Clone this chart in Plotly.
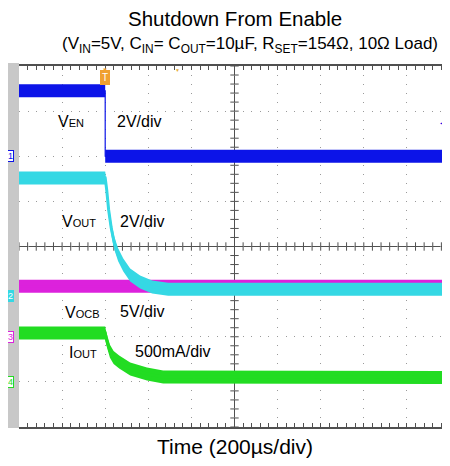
import plotly.graph_objects as go

# ---------------- data (read from the scope capture) ----------------
# time in microseconds, trigger at t = 0, 200 us/div, 10 divisions
t_ven = [-400, 0, 0, 1600]
v_ven = [2.9, 2.9, 0.0, 0.0]                      # V, 2 V/div

t_vout = [-400, 0, 7, 16, 28, 42, 60, 84, 116, 162, 218, 292, 1600]
v_vout = [5.24, 5.24, 4.71, 3.82, 3.02, 2.36, 1.83, 1.38, 0.94, 0.63, 0.41, 0.30, 0.30]  # V, 2 V/div

t_vocb = [-400, 1600]
v_vocb = [5.6, 5.6]                               # V, 5 V/div

t_iout = [-400, 0, 5, 12, 22, 39, 65, 116, 194, 269, 1600]
i_iout = [0.542, 0.542, 0.48, 0.41, 0.34, 0.27, 0.22, 0.143, 0.088, 0.055, 0.049]  # A, 0.5 A/div

T_RANGE = [-400, 1600]
T_DIV = 200

# ---------------- geometry / style ----------------
# the page body has an 8px margin, so the figure is sized to fit the window
OFF = 8
W, H = 450 - OFF, 466 - 2 * OFF
L, R, T, B = 19, 450, 66, 427          # plot area in window pixels
PW, PH = R - L, B - T
NY = 8
DIVPX = PH / NY
FONT = "Liberation Sans, Arial, sans-serif"

def px(x):
    return (x - L) / PW

def py(y):
    return (B - y) / PH

C_BLUE = "#0c14e8"
C_CYAN = "#35d8e4"
C_MAG = "#dc22dc"
C_GREEN = "#22dc22"
GRID = "#9a9a9a"
LINE = "#505050"

# channel: (axis, scale per div, zero position in div from bottom)
channels = {
    "vocb": ("y2", 5.0, 2.0),
    "vout": ("y3", 2.0, 2.9),
    "ven": ("y4", 2.0, 6.0),
    "iout": ("y5", 0.5, 1.0),
}

fig = go.Figure()

# centre-line tick marks (graticule decoration on the main axes)
n_minor_x = 50
xt = [T_RANGE[0] + i * (T_RANGE[1] - T_RANGE[0]) / n_minor_x for i in range(n_minor_x + 1)]
yt = [i * 0.2 for i in range(NY * 5 + 1)]
xc = (T_RANGE[0] + T_RANGE[1]) / 2
fig.add_trace(go.Scatter(x=xt, y=[NY / 2] * len(xt), mode="markers", hoverinfo="skip", showlegend=False,
                         marker=dict(symbol="line-ns", size=6, line=dict(width=1, color=LINE))))
fig.add_trace(go.Scatter(x=[xc] * len(yt), y=yt, mode="markers", hoverinfo="skip", showlegend=False,
                         marker=dict(symbol="line-ew", size=6, line=dict(width=1, color=LINE))))

BAND_PX = 6.5

def add_channel(key, t, v, color, lw):
    ax, scale, zero = channels[key]
    half = BAND_PX / DIVPX * scale
    lower = [a - half for a in v]
    upper = [a + half for a in v]
    fig.add_trace(go.Scatter(x=t, y=lower, yaxis=ax, mode="lines",
                             line=dict(width=0, color=color), hoverinfo="skip", showlegend=False))
    fig.add_trace(go.Scatter(x=t, y=upper, yaxis=ax, mode="lines", fill="tonexty",
                             fillcolor=color, line=dict(width=0, color=color),
                             hoverinfo="skip", showlegend=False))
    fig.add_trace(go.Scatter(x=t, y=v, yaxis=ax, mode="lines",
                             line=dict(width=lw, color=color), showlegend=False))

add_channel("vocb", t_vocb, v_vocb, C_MAG, 2)
add_channel("vout", t_vout, v_vout, C_CYAN, 3)
add_channel("ven", t_ven, v_ven, C_BLUE, 1.2)
add_channel("iout", t_iout, i_iout, C_GREEN, 3)

layout_axes = dict(
    xaxis=dict(range=T_RANGE, dtick=T_DIV, tick0=T_RANGE[0], showgrid=True, gridcolor=GRID,
               griddash="1px,8px", gridwidth=1, zeroline=False,
               showticklabels=False, ticks="inside", ticklen=4, tickcolor=LINE,
               minor=dict(dtick=T_DIV / 5, tick0=T_RANGE[0], ticks="inside", ticklen=4, tickcolor=LINE),
               showline=True, linecolor=LINE, linewidth=1.5, mirror="ticks",
               fixedrange=True),
    yaxis=dict(range=[0, NY], dtick=1, tick0=0, showgrid=True, gridcolor=GRID,
               griddash="1px,7.6px", gridwidth=1, zeroline=False,
               showticklabels=False, ticks="", showline=False, fixedrange=True),
)
for key, (ax, scale, zero) in channels.items():
    name = "yaxis" + ax[1:]
    layout_axes[name] = dict(range=[-zero * scale, (NY - zero) * scale], overlaying="y",
                             visible=False, fixedrange=True)

fig.update_layout(
    width=W, height=H,
    margin=dict(l=L - OFF, r=(W + OFF) - R, t=T - OFF, b=(H + OFF) - B, pad=0),
    paper_bgcolor="white", plot_bgcolor="white",
    showlegend=False,
    font=dict(family=FONT, color="black"),
    **layout_axes,
)

shapes = [
    dict(type="rect", xref="paper", yref="paper", x0=px(7), x1=px(19), y0=py(428), y1=py(63),
         fillcolor="#c8c8c8", line=dict(width=0), layer="below"),
    dict(type="line", xref="paper", yref="paper", x0=0, x1=1, y0=0.5, y1=0.5,
         line=dict(color=LINE, width=1), layer="below"),
    dict(type="line", xref="paper", yref="paper", x0=0.5, x1=0.5, y0=0, y1=1,
         line=dict(color=LINE, width=1), layer="below"),
]
fig.update_layout(shapes=shapes)

ann = []
def text(x, y, s, size, xanchor="center", color="black"):
    ann.append(dict(xref="paper", yref="paper", x=px(x), y=py(y), text=s, showarrow=False,
                    xanchor=xanchor, yanchor="middle", font=dict(size=size, color=color, family=FONT)))

text(235.5, 19, "Shutdown From Enable", 20.5)
text(249.5, 45, "(V<sub>IN</sub>=5V, C<sub>IN</sub>= C<sub>OUT</sub>=10µF, R<sub>SET</sub>=154Ω, 10Ω Load)", 17)
text(234.5, 447, "Time (200µs/div)", 21)

def sc(main, small):
    return f"{main}<span style='font-size:11px'>{small}</span>"

text(56, 121, sc("V", "EN"), 16, xanchor="left")
text(115, 121, "2V/div", 16, xanchor="left")
text(60, 221, sc("V", "OUT"), 16, xanchor="left")
text(118, 221, "2V/div", 16, xanchor="left")
text(63, 312, sc("V", "OCB"), 16, xanchor="left")
text(118, 311, "5V/div", 16, xanchor="left")
text(67, 352, sc("I", "OUT"), 16, xanchor="left")
text(133, 351, "500mA/div", 16, xanchor="left")

# channel ground markers on the left strip, placed at each channel's zero
markers = [("1", "y4", C_BLUE, "white"), ("2", "y3", "white", C_CYAN),
           ("3", "y2", C_MAG, "white"), ("4", "y5", C_GREEN, "white")]
for lab, ax, fc, bg in markers:
    bc = fc if bg == "white" else bg
    ann.append(dict(xref="paper", yref=ax, x=px(10.5), y=0, text=lab, showarrow=False,
                    xanchor="center", yanchor="middle", font=dict(size=9, color=fc, family=FONT),
                    bgcolor=bg, bordercolor=bc, borderwidth=1, borderpad=0))

# trigger position marker
ann.append(dict(xref="x", yref="paper", x=0, y=1, text="T", showarrow=False, xanchor="center",
                yanchor="top", yshift=-4, font=dict(size=10, color="white", family=FONT),
                bgcolor="#f0a030", bordercolor="#f0a030", borderpad=1))
ann.append(dict(xref="x", yref="paper", x=0, y=1, text="▼", showarrow=False, xanchor="center",
                yanchor="top", yshift=1, font=dict(size=6, color="#f0a030", family=FONT)))
ann.append(dict(xref="x", yref="paper", x=334, y=1, text="▼", showarrow=False, xanchor="center",
                yanchor="top", yshift=1, font=dict(size=5, color="#e8b040", family=FONT)))
# trigger level marker (channel 1)
ann.append(dict(xref="paper", yref="y4", x=1.0, y=1.48, text="◀", showarrow=False, xanchor="right",
                yanchor="middle", font=dict(size=10, color=C_BLUE, family=FONT)))

fig.update_layout(annotations=ann)
fig.write_html("out.html")
